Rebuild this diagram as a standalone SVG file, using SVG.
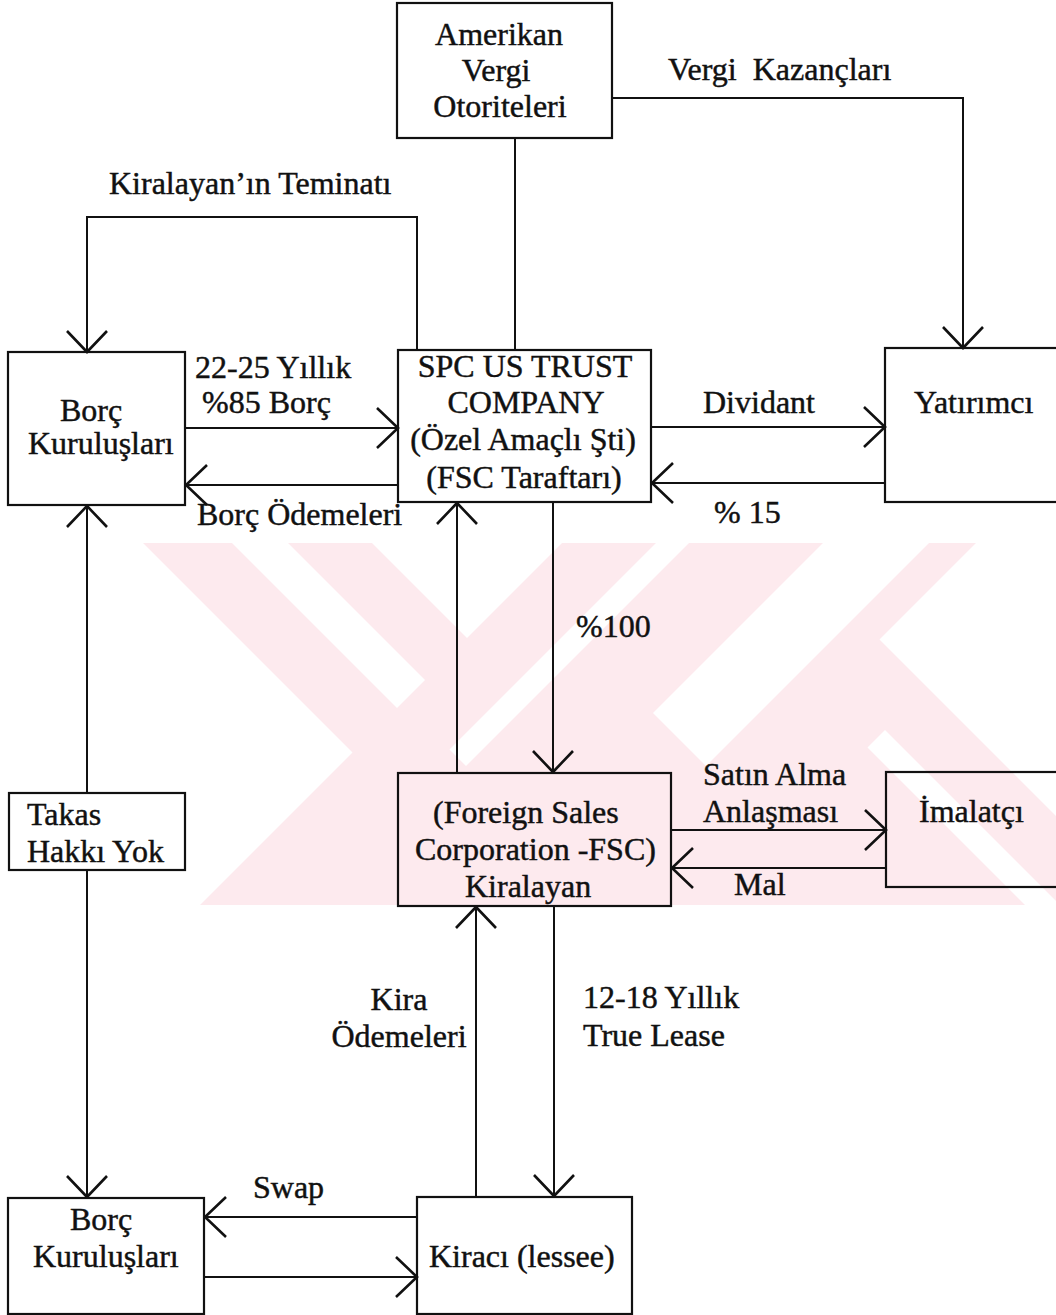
<svg xmlns="http://www.w3.org/2000/svg" width="1056" height="1315" viewBox="0 0 1056 1315">
<style>
text{font-family:"Liberation Serif","Times New Roman",serif;font-size:32px;fill:#111;stroke:#111;stroke-width:0.45px;}
.box{fill:none;stroke:#111;stroke-width:2.2;}
.ln{fill:none;stroke:#111;stroke-width:2;}
.wm{fill:#fdeaee;}
.wh{fill:#ffffff;}
</style>
<defs>
<marker id="ah" viewBox="-24 -22 26 44" refX="0" refY="0" markerWidth="26" markerHeight="44" markerUnits="userSpaceOnUse" orient="auto">
<path d="M -21 -20 L 0 0 L -21 20" fill="none" stroke="#111" stroke-width="2.6"/>
</marker>
<clipPath id="wmclip"><rect x="0" y="543" width="1056" height="362"/></clipPath>
</defs>
<rect x="0" y="0" width="1056" height="1315" fill="#ffffff"/>
<g id="watermark" clip-path="url(#wmclip)">
<rect class="wm" x="0" y="543" width="1056" height="362"/>
<polygon class="wh" points="0,543 143,543 352.5,752.5 200,905 0,905"/>
<polygon class="wh" points="232,543 288,543 425,680 397,708"/>
<polygon class="wh" points="372,543 562,543 467,638"/>
<polygon class="wh" points="656,543 689,543 466,766 449.5,749.5"/>
<polygon class="wh" points="823,543 929,543 706,766 653,713"/>
<polygon class="wh" points="976,543 1056,543 1056,816 879.5,639.5"/>
<polygon class="wh" points="885,730 1056,901 1056,905 1025,905 867.5,747.5"/>
</g>
<g id="connectors">
<polyline class="ln" points="612,98 963,98 963,348" marker-end="url(#ah)"/>
<line class="ln" x1="515" y1="138" x2="515" y2="350"/>
<polyline class="ln" points="417,350 417,217 87,217 87,352" marker-end="url(#ah)"/>
<line class="ln" x1="185" y1="428" x2="398" y2="428" marker-end="url(#ah)"/>
<line class="ln" x1="398" y1="485" x2="186" y2="485" marker-end="url(#ah)"/>
<line class="ln" x1="651" y1="427" x2="885" y2="427" marker-end="url(#ah)"/>
<line class="ln" x1="885" y1="483" x2="652" y2="483" marker-end="url(#ah)"/>
<line class="ln" x1="87" y1="793" x2="87" y2="506" marker-end="url(#ah)"/>
<line class="ln" x1="87" y1="870" x2="87" y2="1197" marker-end="url(#ah)"/>
<line class="ln" x1="457" y1="773" x2="457" y2="503" marker-end="url(#ah)"/>
<line class="ln" x1="553" y1="503" x2="553" y2="772" marker-end="url(#ah)"/>
<line class="ln" x1="671" y1="830" x2="886" y2="830" marker-end="url(#ah)"/>
<line class="ln" x1="886" y1="868" x2="672" y2="868" marker-end="url(#ah)"/>
<line class="ln" x1="476" y1="1197" x2="476" y2="907" marker-end="url(#ah)"/>
<line class="ln" x1="554" y1="907" x2="554" y2="1196" marker-end="url(#ah)"/>
<line class="ln" x1="417" y1="1217" x2="205" y2="1217" marker-end="url(#ah)"/>
<line class="ln" x1="204" y1="1277" x2="417" y2="1277" marker-end="url(#ah)"/>
</g>
<g id="edge-labels">
<text x="668" y="80" xml:space="preserve">Vergi  Kazançları</text>
<text x="109" y="194">Kiralayan’ın Teminatı</text>
<text x="195" y="378">22-25 Yıllık</text>
<text x="202" y="413">%85 Borç</text>
<text x="197" y="525">Borç Ödemeleri</text>
<text x="703" y="413">Dividant</text>
<text x="714" y="523">% 15</text>
<text x="576" y="637">%100</text>
<text x="703" y="785">Satın Alma</text>
<text x="703" y="822">Anlaşması</text>
<text x="734" y="895">Mal</text>
<text x="399" y="1010" text-anchor="middle">Kira</text>
<text x="399" y="1047" text-anchor="middle">Ödemeleri</text>
<text x="583" y="1008">12-18 Yıllık</text>
<text x="583" y="1046">True Lease</text>
<text x="253" y="1198">Swap</text>
</g>
<g id="node-amerikan">
<rect class="box" x="397" y="3" width="215" height="135"/>
<text x="499" y="45" text-anchor="middle">Amerikan</text>
<text x="496" y="81" text-anchor="middle">Vergi</text>
<text x="500" y="117" text-anchor="middle">Otoriteleri</text>
</g>
<g id="node-borc-top">
<rect class="box" x="8" y="352" width="177" height="153"/>
<text x="60" y="421">Borç</text>
<text x="28" y="454">Kuruluşları</text>
</g>
<g id="node-spc">
<rect class="box" x="398" y="350" width="253" height="152"/>
<text x="525" y="377" text-anchor="middle">SPC US TRUST</text>
<text x="526" y="413" text-anchor="middle">COMPANY</text>
<text x="523" y="450" text-anchor="middle">(Özel Amaçlı Şti)</text>
<text x="524" y="488" text-anchor="middle">(FSC Taraftarı)</text>
</g>
<g id="node-yatirimci">
<rect class="box" x="885" y="348" width="180" height="154"/>
<text x="914" y="413">Yatırımcı</text>
</g>
<g id="node-takas">
<rect class="box" x="9" y="793" width="176" height="77"/>
<text x="27" y="825">Takas</text>
<text x="27" y="862">Hakkı Yok</text>
</g>
<g id="node-fsc">
<rect class="box" x="398" y="773" width="273" height="133"/>
<text x="433" y="823">(Foreign Sales</text>
<text x="415" y="860">Corporation -FSC)</text>
<text x="465" y="897">Kiralayan</text>
</g>
<g id="node-imalatci">
<rect class="box" x="886" y="772" width="180" height="115"/>
<text x="919" y="822">İmalatçı</text>
</g>
<g id="node-borc-bottom">
<rect class="box" x="8" y="1198" width="196" height="116"/>
<text x="70" y="1230">Borç</text>
<text x="33" y="1267">Kuruluşları</text>
</g>
<g id="node-kiraci">
<rect class="box" x="417" y="1197" width="215" height="117"/>
<text x="429" y="1267">Kiracı (lessee)</text>
</g>
</svg>
